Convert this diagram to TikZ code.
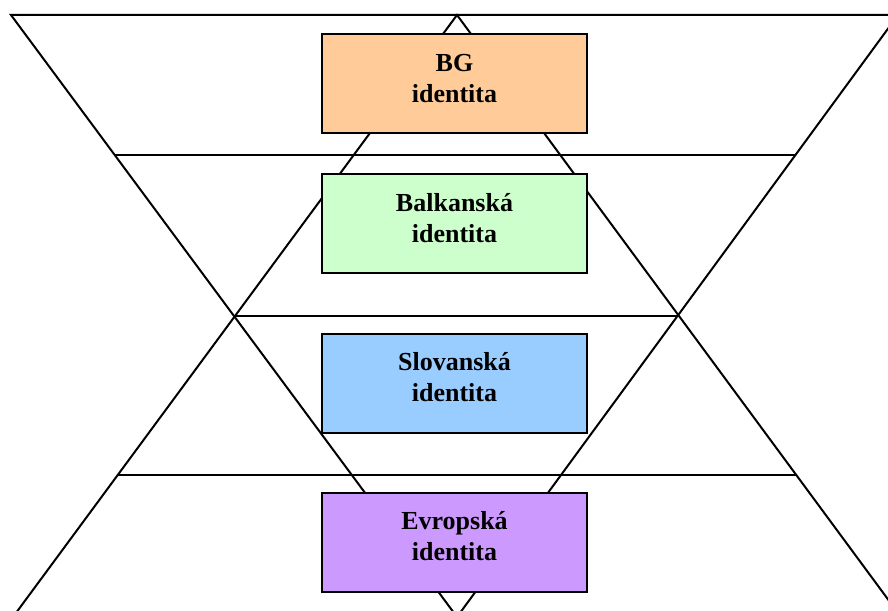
\documentclass[tikz,border=0pt]{standalone}
\usepackage{fontspec}
\setmainfont{Liberation Serif}
\usetikzlibrary{calc}
\definecolor{bgc}{HTML}{FFCC99}
\definecolor{balc}{HTML}{CCFFCC}
\definecolor{slc}{HTML}{99CCFF}
\definecolor{evc}{HTML}{CC99FF}
\newcommand{\idtext}[1]{\begin{tabular}{@{}c@{}}#1\\identita\end{tabular}\rule[-31pt]{0pt}{31pt}}
\tikzset{
  ln/.style={line width=2pt, black},
  idbox/.style={draw=black, line width=2pt, minimum width=265pt, minimum height=99pt,
    inner sep=0pt, align=center, font=\fontsize{26}{31}\selectfont\bfseries}
}
\begin{document}
\begin{tikzpicture}[x=1pt,y=-1pt]
\useasboundingbox (0,0) rectangle (888,610);
\clip (0,0) rectangle (888,610);
% inverted triangle
\coordinate (A) at (11,15);
\coordinate (B) at (898,15);
\coordinate (C) at (457,617);
% upright triangle
\coordinate (D) at (457,15);
\coordinate (E) at (13,617);
\coordinate (F) at (901,617);
\draw[ln] (A) -- (B) -- (C) -- cycle;
\draw[ln] (D) -- (E) -- (F) -- cycle;
% horizontal lines
\coordinate (h1l) at ($(A)!0.2326!(C)$);
\coordinate (h1r) at ($(B)!0.2326!(C)$);
\coordinate (h2l) at ($(A)!0.5!(C)$);
\coordinate (h2r) at ($(B)!0.5!(C)$);
\coordinate (h3l) at ($(D)!0.764!(E)$);
\coordinate (h3r) at ($(D)!0.764!(F)$);
\draw[ln] (h1l) -- (h1r);
\draw[ln] (h2l) -- (h2r);
\draw[ln] (h3l) -- (h3r);
% boxes
\node[idbox, fill=bgc] (bg) at (454.5,83.5) {\idtext{BG}};
\node[idbox, fill=balc] (bal) at (454.5,223.5) {\idtext{Balkanská}};
\node[idbox, fill=slc] (slo) at (454.5,383) {\idtext{Slovanská}};
\node[idbox, fill=evc] (evr) at (454.5,542) {\idtext{Evropská}};
\end{tikzpicture}
\end{document}
